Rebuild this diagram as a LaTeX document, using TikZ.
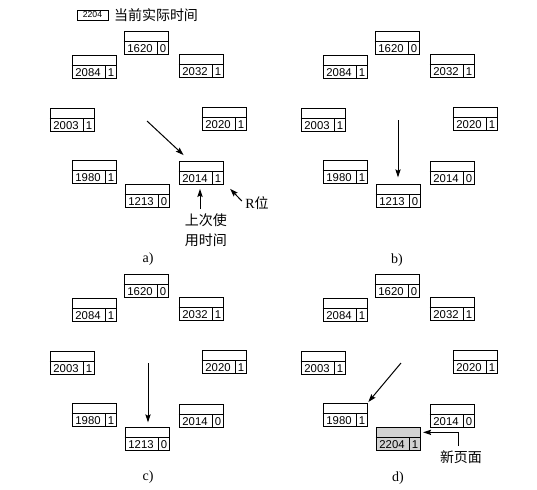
\documentclass[tikz,border=0pt]{standalone}
\usepackage{fontspec}
\setmainfont{Liberation Serif}
\newfontfamily\cjk{Noto Sans CJK SC}
\newfontfamily\numfont{Liberation Sans}
\usetikzlibrary{arrows.meta}

\tikzset{
  pframe/.style={draw, line width=0.7pt, minimum width=33pt, minimum height=17.25pt, inner sep=0pt},
  newpframe/.style={pframe, fill=gray!35},
  digits/.style={font=\numfont\fontsize{8.5}{9}\selectfont, inner sep=0pt},
  ptr/.style={line width=0.75pt, -{Stealth[length=6pt,width=4pt,inset=1pt]}},
  figlabel/.style={font=\fontsize{10.5}{12}\selectfont},
  note/.style={font=\cjk\fontsize{10.5}{15}\selectfont, align=center, inner sep=1pt}
}

% page frame: [style] name, position, page number, R bit
\newcommand{\pageframe}[5][pframe]{%
  \node[#1] (#2) at (#3) {};
  \draw[line width=0.7pt] ([yshift=-7.5pt]#2.north west) -- ([yshift=-7.5pt]#2.north east);
  \draw[line width=0.7pt] ([xshift=-8.25pt]#2.south east) -- ([xshift=-8.25pt,yshift=-7.5pt]#2.north east);
  \node[digits] (#2-n) at ([xshift=12.375pt,yshift=4.875pt]#2.south west) {#4};
  \node[digits] (#2-r) at ([xshift=-4.125pt,yshift=4.875pt]#2.south east) {#5};
}

\begin{document}
\begin{tikzpicture}[x=0.75pt, y=-0.75pt]
  \useasboundingbox[fill=white] (0,0) rectangle (537,490);

  % current time
  \node[draw, line width=0.6pt, minimum width=23.25pt, minimum height=7.5pt, inner sep=0pt,
        font=\numfont\fontsize{6.5}{7}\selectfont] (now) at (92.5,15) {2204};
  \node[note, anchor=west] (nowtxt) at ([xshift=3pt]now.east) {当前实际时间};

  % a)
  \pageframe{a1620}{146,43}{1620}{0}
  \pageframe{a2084}{94,67}{2084}{1}
  \pageframe{a2032}{201,66}{2032}{1}
  \pageframe{a2003}{72,120}{2003}{1}
  \pageframe{a2020}{224,119}{2020}{1}
  \pageframe{a1980}{94,172}{1980}{1}
  \pageframe{a2014}{201,173}{2014}{1}
  \pageframe{a1213}{147,196}{1213}{0}
  \coordinate (a-hand) at (147,121);
  \draw[ptr] (a-hand) -- ([shift={(5,-6)}]a2014.north west);
  \node[note] (lastuse) at (206,230) {上次使\\用时间};
  \coordinate (lu-tail) at ([xshift=-4.5pt,yshift=2pt]lastuse.north);
  \draw[ptr, shorten >=3pt] (lu-tail) -- (lu-tail |- a2014.south);
  \node[figlabel, inner sep=1pt] (rbit) at (257,203) {R\cjk 位};
  \draw[ptr, shorten >=4pt, shorten <=2pt] (rbit.west) -- ([shift={(3,0)}]a2014.south east);
  \node[figlabel] (lbl-a) at (148,259) {a)};

  % b)
  \begin{scope}[shift={(251,0)}]
    \pageframe{b1620}{146,43}{1620}{0}
    \pageframe{b2084}{94,67}{2084}{1}
    \pageframe{b2032}{201,66}{2032}{1}
    \pageframe{b2003}{72,120}{2003}{1}
    \pageframe{b2020}{224,119}{2020}{1}
    \pageframe{b1980}{94,172}{1980}{1}
    \pageframe{b2014}{201,173}{2014}{0}
    \pageframe{b1213}{147,196}{1213}{0}
    \coordinate (b-hand) at (147,120);
    \draw[ptr, shorten >=5pt] (b-hand) -- (b-hand |- b1213.north);
    \node[figlabel] (lbl-b) at (146,260) {b)};
  \end{scope}

  % c)
  \begin{scope}[shift={(0,243)}]
    \pageframe{c1620}{146,43}{1620}{0}
    \pageframe{c2084}{94,67}{2084}{1}
    \pageframe{c2032}{201,66}{2032}{1}
    \pageframe{c2003}{72,120}{2003}{1}
    \pageframe{c2020}{224,119}{2020}{1}
    \pageframe{c1980}{94,172}{1980}{1}
    \pageframe{c2014}{201,173}{2014}{0}
    \pageframe{c1213}{147,196}{1213}{0}
    \coordinate (c-hand) at (148,120);
    \draw[ptr, shorten >=3.5pt] (c-hand) -- (c-hand |- c1213.north);
    \node[figlabel] (lbl-c) at (148,234) {c)};
  \end{scope}

  % d)
  \begin{scope}[shift={(251,243)}]
    \pageframe{d1620}{146,43}{1620}{0}
    \pageframe{d2084}{94,67}{2084}{1}
    \pageframe{d2032}{201,66}{2032}{1}
    \pageframe{d2003}{72,120}{2003}{1}
    \pageframe{d2020}{224,119}{2020}{1}
    \pageframe{d1980}{94,172}{1980}{1}
    \pageframe{d2014}{201,173}{2014}{0}
    \pageframe[newpframe]{d2204}{147,196}{2204}{1}
    \coordinate (d-hand) at (150,120);
    \draw[ptr, shorten >=1pt] (d-hand) -- (d1980.north east);
    \node[note] (newpage) at (210,214) {新页面};
    \coordinate (np-tail) at ([xshift=-2pt,yshift=2pt]newpage.north);
    \draw[ptr, shorten >=2pt] (np-tail) |- ([yshift=5pt]d2204.east);
    \node[figlabel] (lbl-d) at (147,235) {d)};
  \end{scope}
\end{tikzpicture}
\end{document}
